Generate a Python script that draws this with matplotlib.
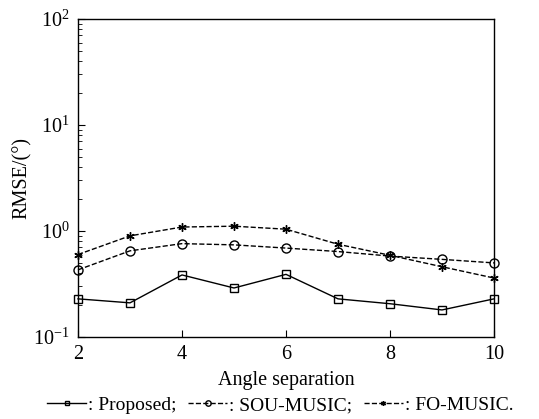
import numpy as np
import matplotlib.pyplot as plt
from matplotlib.ticker import LogLocator, NullFormatter

plt.rcParams['font.family'] = 'Liberation Serif'
plt.rcParams['mathtext.fontset'] = 'custom'
plt.rcParams['mathtext.rm'] = 'Liberation Serif'
plt.rcParams['mathtext.it'] = 'Liberation Serif:italic'

angle_sep = [2, 3, 4, 5, 6, 7, 8, 9, 10]
proposed = [0.229, 0.21, 0.385, 0.29, 0.39, 0.229, 0.206, 0.18, 0.229]
sou_music = [0.43, 0.65, 0.76, 0.74, 0.69, 0.64, 0.58, 0.54, 0.50]
fo_music = [0.60, 0.90, 1.09, 1.11, 1.04, 0.75, 0.59, 0.46, 0.36]

fig = plt.figure(figsize=(5.39, 4.19), dpi=100)
ax = fig.add_axes([78 / 539, 1 - 337 / 419, (494 - 78) / 539, (337 - 19) / 419])

ax.plot(angle_sep, proposed, '-', color='black', lw=1, marker='s', ms=5.5,
        mfc='none', mew=1, label=': Proposed;', clip_on=False)
ax.plot(angle_sep, sou_music, '--', color='black', lw=1, marker='o', ms=6.5,
        mfc='none', mew=1, label=': SOU-MUSIC;', clip_on=False)
ax.plot(angle_sep, fo_music, '--', color='black', lw=1, marker=(6, 2, 0), ms=6,
        mew=1, label=': FO-MUSIC.', clip_on=False)

ax.set_yscale('log')
ax.set_ylim(0.1, 100)
ax.set_xlim(2, 10)
ax.set_xticks([2, 4, 6, 8, 10])
ax.yaxis.set_major_locator(LogLocator(base=10, numticks=10))
ax.yaxis.set_minor_locator(LogLocator(base=10, subs=np.arange(2, 10), numticks=10))
ax.yaxis.set_minor_formatter(NullFormatter())
ax.tick_params(which='both', direction='in', top=False, right=False, labelsize=14.5)
ax.tick_params(which='major', length=5, pad=6)
ax.tick_params(which='minor', length=3)
for s in ax.spines.values():
    s.set_linewidth(1)

ax.set_xlabel('Angle separation', fontsize=14.5, labelpad=5)
ax.set_ylabel('RMSE/(°)', fontsize=14.5)
ax.yaxis.set_label_coords(-0.11, 0.5)

fig.legend(loc='lower center', bbox_to_anchor=(0.52, -0.03), ncol=3, frameon=False,
           fontsize=14, handlelength=2.0, handletextpad=0.1, columnspacing=0.6,
           markerscale=0.6)

fig.savefig('out.png', dpi=100)
